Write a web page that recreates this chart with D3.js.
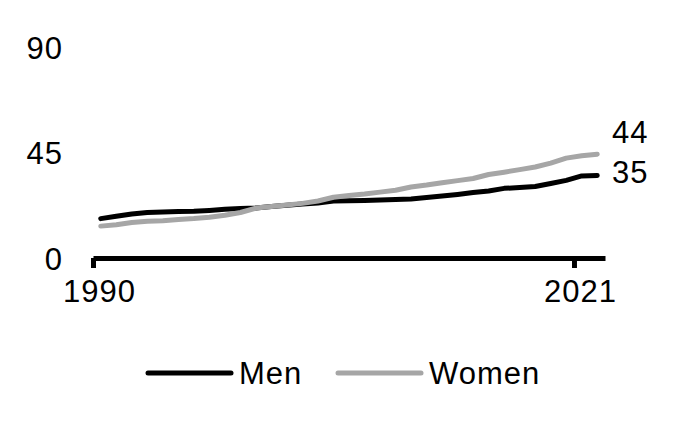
<!DOCTYPE html>
<meta charset="utf-8">
<head>
  <style>
    body { margin: 0; background: #fff; }
    text { font-family: "Liberation Sans", Arial, sans-serif; font-size: 31px; fill: #000; letter-spacing: 1px; }
  </style>
  <script src="https://cdn.jsdelivr.net/npm/d3@7"></script>
</head>
<body>
  <div id="viz"></div>
</body>
<script>
// values, one per year 1990..2022
var years = d3.range(1990, 2023);
var men = [16.8, 17.8, 18.8, 19.4, 19.6, 19.8, 19.9, 20.3, 20.8, 21.1,
           21.3, 22.0, 22.5, 23.0, 23.5, 24.3, 24.4, 24.5, 24.7, 24.9,
           25.2, 25.8, 26.4, 27.1, 27.9, 28.6, 29.7, 30.1, 30.5, 31.8,
           33.1, 35.0, 35.2];
var women = [13.6, 14.2, 15.1, 15.7, 15.9, 16.4, 16.8, 17.4, 18.2, 19.4,
             21.3, 22.0, 22.6, 23.3, 24.3, 25.9, 26.7, 27.3, 28.1, 28.9,
             30.3, 31.1, 32.1, 33.0, 33.9, 35.6, 36.6, 37.7, 38.8, 40.5,
             42.6, 43.6, 44.3];
var yTicks = [0, 45, 90];
var xTicks = [1990, 2021];
var seriesNames = ["Men", "Women"];
var colors = ["#000000", "#a6a6a6"];

var svg = d3.select("#viz")
  .append("svg")
    .attr("width", 679)
    .attr("height", 430);

var x = d3.scaleLinear().domain([1990, 2023]).range([93, 605]);
var y = d3.scaleLinear().domain([0, 90]).range([258, 47]);

/* y axis: labels only */
var yAxis = svg.append("g")
  .attr("transform", "translate(63,0)")
  .call(d3.axisLeft(y).tickValues(yTicks).tickSize(0).tickPadding(0));
yAxis.select(".domain").remove();
yAxis.selectAll("text")
  .attr("dy", "0.36em")
  .style("font-size", "31px")
  .style("font-family", "'Liberation Sans', Arial, sans-serif")
  .attr("fill", "#000");

/* x axis at zero */
var xAxis = svg.append("g")
  .attr("transform", "translate(0," + y(0) + ")")
  .call(d3.axisBottom(x).tickValues(xTicks).tickFormat(d3.format("d"))
    .tickSize(10).tickSizeOuter(0).tickPadding(12));
xAxis.select(".domain")
  .attr("stroke", "#000")
  .attr("stroke-width", 5);
xAxis.selectAll(".tick line")
  .attr("stroke", "#000")
  .attr("stroke-width", 5);
xAxis.selectAll(".tick text")
  .attr("dx", 6)
  .style("font-size", "31px")
  .style("font-family", "'Liberation Sans', Arial, sans-serif")
  .attr("fill", "#000");

/* lines, plotted mid-year */
var line = d3.line()
  .x(function(d, i) { return x(years[i] + 0.5); })
  .y(function(d) { return y(d); });

svg.selectAll(".series")
  .data([men, women])
  .enter()
  .append("path")
    .attr("class", "series")
    .attr("d", line)
    .attr("fill", "none")
    .attr("stroke", function(d, i) { return colors[i]; })
    .attr("stroke-width", 5)
    .attr("stroke-linecap", "round")
    .attr("stroke-linejoin", "round");

/* end labels */
svg.selectAll(".end-label")
  .data([men, women])
  .enter()
  .append("text")
    .attr("class", "end-label")
    .attr("x", 612)
    .attr("y", function(d, i) { return i == 0 ? y(d[d.length - 1]) - 4 : y(d[d.length - 1]) - 22; })
    .attr("dy", "0.36em")
    .text(function(d) { return d3.format(".0f")(d[d.length - 1]); });

/* legend */
var legendX = [148, 338];
var legend = svg.selectAll(".legend")
  .data(seriesNames)
  .enter()
  .append("g")
    .attr("class", "legend")
    .attr("transform", function(d, i) { return "translate(" + legendX[i] + ",373)"; });

legend.append("line")
  .attr("x1", 0).attr("x2", 83)
  .attr("stroke", function(d, i) { return colors[i]; })
  .attr("stroke-width", 5)
  .attr("stroke-linecap", "round");

legend.append("text")
  .attr("x", 91)
  .attr("dy", "0.36em")
  .text(function(d) { return d; });
</script>
